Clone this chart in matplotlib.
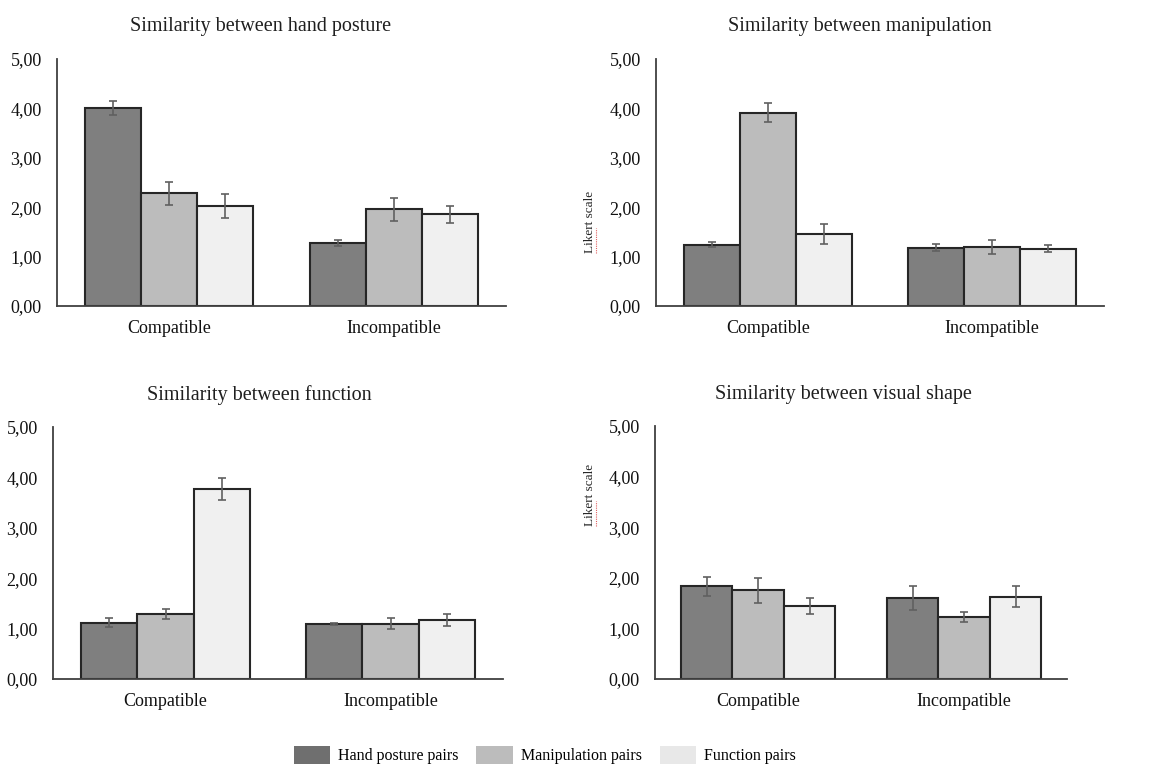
import matplotlib
matplotlib.use("Agg")
import matplotlib.pyplot as plt
from matplotlib.patches import Patch
import numpy as np

plt.rcParams['font.family'] = ['Liberation Serif', 'DejaVu Serif']

categories = ["Compatible", "Incompatible"]
series_names = ["Hand posture pairs", "Manipulation pairs", "Function pairs"]
tick_values = [0, 1, 2, 3, 4, 5]
tick_labels = ["0,00", "1,00", "2,00", "3,00", "4,00", "5,00"]

# Means per series: [Compatible, Incompatible]
hand_means = {
    "Hand posture pairs": [4.01, 1.28],
    "Manipulation pairs": [2.28, 1.96],
    "Function pairs": [2.03, 1.86],
}
hand_errs = {
    "Hand posture pairs": [0.14, 0.06],
    "Manipulation pairs": [0.23, 0.23],
    "Function pairs": [0.24, 0.17],
}
manip_means = {
    "Hand posture pairs": [1.24, 1.18],
    "Manipulation pairs": [3.91, 1.20],
    "Function pairs": [1.46, 1.16],
}
manip_errs = {
    "Hand posture pairs": [0.05, 0.07],
    "Manipulation pairs": [0.19, 0.14],
    "Function pairs": [0.20, 0.07],
}
func_means = {
    "Hand posture pairs": [1.12, 1.09],
    "Manipulation pairs": [1.29, 1.10],
    "Function pairs": [3.77, 1.17],
}
func_errs = {
    "Hand posture pairs": [0.09, 0.02],
    "Manipulation pairs": [0.09, 0.11],
    "Function pairs": [0.21, 0.12],
}
shape_means = {
    "Hand posture pairs": [1.83, 1.60],
    "Manipulation pairs": [1.75, 1.23],
    "Function pairs": [1.45, 1.63],
}
shape_errs = {
    "Hand posture pairs": [0.19, 0.23],
    "Manipulation pairs": [0.24, 0.10],
    "Function pairs": [0.16, 0.21],
}

bar_colors = ["#7f7f7f", "#bcbcbc", "#f0f0f0"]
legend_colors = ["#6f6f6f", "#bcbcbc", "#e8e8e8"]

W, H = 1156, 768
fig = plt.figure(figsize=(W / 100, H / 100), dpi=100)


def px_axes(left, right, top, bottom):
    return fig.add_axes([left / W, 1 - bottom / H, (right - left) / W, (bottom - top) / H])


def draw_panel(ax, means, errs, title, title_xy, ylabel=None, ylabel_xy=None):
    x = np.arange(len(categories))
    width = 0.25
    for i, name in enumerate(series_names):
        pos = x + (i - 1) * width
        ax.bar(pos, means[name], width, color=bar_colors[i], edgecolor="#262626",
               linewidth=1.5, zorder=2)
        ax.errorbar(pos, means[name], yerr=errs[name], fmt="none", ecolor="#606060",
                    elinewidth=1.2, capsize=3, capthick=1.2, zorder=3)
    ax.set_xlim(-0.5, 1.5)
    ax.set_ylim(0, 5)
    ax.set_yticks(tick_values)
    ax.set_yticklabels(tick_labels, fontsize=13, color="#111111")
    ax.set_xticks(x)
    ax.set_xticklabels(categories, fontsize=13, color="#111111")
    ax.tick_params(axis="both", length=0)
    ax.tick_params(axis="y", pad=11)
    ax.tick_params(axis="x", pad=10)
    for s in ("top", "right"):
        ax.spines[s].set_visible(False)
    for s in ("left", "bottom"):
        ax.spines[s].set_color("#404040")
        ax.spines[s].set_linewidth(1.3)
    fig.text(title_xy[0] / W, 1 - title_xy[1] / H, title, ha="center", va="center",
             fontsize=14.5, color="#1f1f1f")
    if ylabel:
        fig.text(ylabel_xy[0] / W, 1 - ylabel_xy[1] / H, ylabel, ha="center",
                 va="center", rotation=90, fontsize=9.5, color="#262626")


ax1 = px_axes(57, 506, 59, 306)
draw_panel(ax1, hand_means, hand_errs, "Similarity between hand posture", (261, 27))

ax2 = px_axes(656, 1104, 59, 306)
draw_panel(ax2, manip_means, manip_errs, "Similarity between manipulation", (860, 27),
           "Likert scale", (590, 222))

ax3 = px_axes(53, 503, 427, 679)
draw_panel(ax3, func_means, func_errs, "Similarity between function", (259, 395))

ax4 = px_axes(655, 1067, 426, 679)
draw_panel(ax4, shape_means, shape_errs, "Similarity between visual shape", (843, 395),
           "Likert scale", (590, 495))

# spell-check underline under "Likert"
for yc in (240, 513):
    fig.add_artist(plt.Line2D([596 / W, 596 / W], [1 - (yc + 13) / H, 1 - (yc - 12) / H],
                              color="#e06060", linewidth=0.8, linestyle=(0, (1, 1))))

handles = [Patch(facecolor=c, edgecolor="none") for c in legend_colors]
fig.legend(handles, series_names, loc="center", bbox_to_anchor=(545 / W, 1 - 755 / H),
           ncol=3, frameon=False, fontsize=11.5, handlelength=2.3, handleheight=1.45,
           columnspacing=1.1, handletextpad=0.5)

fig.savefig("out.png", dpi=100, facecolor="white")
